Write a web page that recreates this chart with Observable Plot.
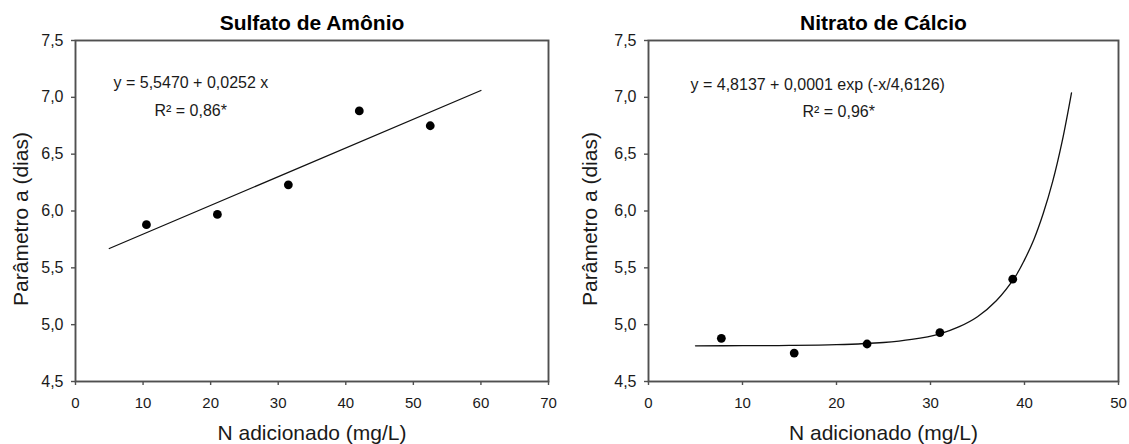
<!DOCTYPE html>
<html>
<head>
<meta charset="utf-8">
<script src="https://cdn.jsdelivr.net/npm/d3@7"></script>
<script src="https://cdn.jsdelivr.net/npm/@observablehq/plot@0.6"></script>
<style>
  html, body { margin: 0; padding: 0; background: #fff; }
  #wrap { display: flex; width: 1129px; height: 444px; }
  svg { overflow: visible; }
</style>
</head>
<body>
<div id="wrap"></div>
<script>
// ---- Data ----
const sulfTitle = "Sulfato de Amônio";
const sulfX = [10.5, 21, 31.5, 42, 52.5];
const sulfY = [5.88, 5.97, 6.23, 6.88, 6.75];
const sulfFitX = [5, 60];
const sulfFitY = [5.67, 7.06];
const sulfEq = "y = 5,5470 + 0,0252 x";
const sulfR2 = "R² = 0,86*";
const sulfXTicks = [0, 10, 20, 30, 40, 50, 60, 70];

const nitrTitle = "Nitrato de Cálcio";
const nitrX = [7.75, 15.5, 23.25, 31, 38.75];
const nitrY = [4.88, 4.75, 4.83, 4.93, 5.40];
const nitrFitX = [5, 10, 15, 20, 25, 28, 31, 33, 35, 37, 39, 40, 41, 42, 43, 44, 45];
const nitrFitY = [4.814, 4.815, 4.817, 4.824, 4.843, 4.87, 4.92, 4.98, 5.07, 5.21, 5.42, 5.57, 5.75, 5.98, 6.26, 6.61, 7.04];
const nitrEq = "y = 4,8137 + 0,0001 exp (-x/4,6126)";
const nitrR2 = "R² = 0,96*";
const nitrXTicks = [0, 10, 20, 30, 40, 50];

const yTicks = [4.5, 5.0, 5.5, 6.0, 6.5, 7.0, 7.5];
const yTickLabels = ["4,5", "5,0", "5,5", "6,0", "6,5", "7,0", "7,5"];
const xLabel = "N adicionado (mg/L)";
const yLabel = "Parâmetro a (dias)";

// ---- Drawing ----
const FONT = "'Liberation Sans', Arial, Helvetica, sans-serif";
const TXT = "#1a1a1a";
const AX = "#505050";

function panel(cfg) {
  const pts = cfg.xs.map((x, i) => ({x, y: cfg.ys[i]}));
  const fit = cfg.fx.map((x, i) => ({x, y: cfg.fy[i]}));
  return Plot.plot({
    width: cfg.width,
    height: 444,
    marginLeft: cfg.ml,
    marginRight: cfg.mr,
    marginTop: 40,
    marginBottom: 63,
    style: {fontFamily: FONT, color: TXT, background: "#fff"},
    x: {domain: [cfg.xTicks[0], cfg.xTicks[cfg.xTicks.length - 1]]},
    y: {domain: [yTicks[0], yTicks[yTicks.length - 1]]},
    marks: [
      Plot.axisX({ticks: cfg.xTicks, tickSize: 4, tickPadding: 12, fontSize: 15, stroke: AX, strokeWidth: 1.4, label: null, tickFormat: d => String(d)}),
      Plot.axisY({ticks: yTicks, tickSize: 4, tickPadding: 8, fontSize: 16, stroke: AX, strokeWidth: 1.4, label: null,
        tickFormat: d => yTickLabels[yTicks.findIndex(t => Math.abs(t - d) < 1e-9)]}),
      Plot.frame({stroke: AX, strokeWidth: 1.9}),
      Plot.line(fit, {x: "x", y: "y", stroke: "#111", strokeWidth: 1.3, curve: "catmull-rom"}),
      Plot.dot(pts, {x: "x", y: "y", r: 4.4, fill: "#000", stroke: "none"}),
      Plot.text([cfg.title], {frameAnchor: "top", textAnchor: "middle", lineAnchor: "middle", dy: -17, fontSize: 21, fontWeight: "bold", fill: "#000"}),
      Plot.text([cfg.eq], {frameAnchor: "top-left", dx: cfg.eqdx, dy: cfg.eqdy, textAnchor: "start", lineAnchor: "middle", fontSize: 16, fill: TXT}),
      Plot.text([cfg.r2], {frameAnchor: "top-left", dx: cfg.r2dx, dy: cfg.r2dy, textAnchor: "start", lineAnchor: "middle", fontSize: 16, fill: TXT}),
      Plot.text([xLabel], {frameAnchor: "bottom", textAnchor: "middle", lineAnchor: "middle", dy: 52, fontSize: 21, fill: TXT}),
      Plot.text([yLabel], {frameAnchor: "left", textAnchor: "middle", lineAnchor: "middle", dx: cfg.ylx, dy: 8, rotate: -90, fontSize: 21, fill: TXT})
    ]
  });
}

const wrap = document.getElementById("wrap");
wrap.appendChild(panel({
  width: 565, ml: 75, mr: 17,
  xs: sulfX, ys: sulfY, fx: sulfFitX, fy: sulfFitY, xTicks: sulfXTicks,
  title: sulfTitle, eq: sulfEq, r2: sulfR2,
  eqdx: 38, eqdy: 42, r2dx: 79, r2dy: 70, ylx: -54
}));
wrap.appendChild(panel({
  width: 564, ml: 83, mr: 11,
  xs: nitrX, ys: nitrY, fx: nitrFitX, fy: nitrFitY, xTicks: nitrXTicks,
  title: nitrTitle, eq: nitrEq, r2: nitrR2,
  eqdx: 42, eqdy: 44, r2dx: 154, r2dy: 71, ylx: -58
}));
</script>
</body>
</html>
